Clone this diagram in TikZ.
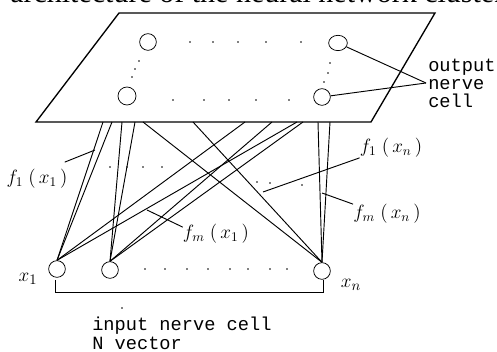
\documentclass[tikz,border=0pt]{standalone}
\usepackage{fontspec}
\setmainfont{Liberation Serif}
\setmonofont{Liberation Mono}
\usetikzlibrary{shapes.geometric}
\begin{document}
\begin{tikzpicture}[x=0.75pt,y=-0.75pt,
  cell/.style={circle,draw,line width=0.55pt,minimum size=12.5pt,inner sep=0pt},
  link/.style={line width=0.7pt},
  mlbl/.style={font=\fontsize{14}{16}\selectfont,inner sep=0pt},
  ttlbl/.style={font=\fontsize{14}{16}\ttfamily\selectfont,inner sep=0pt,anchor=base west},
  spot/.style={fill,radius=0.8}]
  \useasboundingbox (0,0) rectangle (497,352);
  % title, cut off at the top
  \node[anchor=base west,inner sep=0pt,font=\fontsize{22.5}{25}\selectfont] (title) at (10,3) {architecture of the neural network clustering};
  % output plane
  \draw[line width=1pt] (119,13) -- (435,13) -- (371,122) -- (36,122) -- cycle;
  \node[cell] (o11) at (148,42) {};
  \node[draw,ellipse,line width=0.55pt,inner sep=0pt,minimum width=14pt,minimum height=11.5pt] (o1n) at (338,43) {};
  \node[cell,minimum size=13.5pt] (om1) at (127,96) {};
  \node[cell] (omn) at (322,97) {};
  \foreach \x in {190,213,238,266,301} \fill[spot] (\x,42) circle;
  \foreach \x in {173,204,229,256,289} \fill[spot] (\x,100) circle;
  \foreach \x/\y in {139/61,135/69,132/77,330/63,328/73,324/82} \fill[spot] (\x,\y) circle;
  % output label
  \node[ttlbl] (out1) at (428,72) {output};
  \node[ttlbl] (out2) at (428,90) {nerve};
  \node[ttlbl] (out3) at (428,108) {cell};
  \coordinate (optr) at (426,83);
  \draw[link] (o1n) -- (optr);
  \draw[link] (omn) -- (optr);
  % input layer
  \node[cell] (x1) at (57,269) {};
  \node[cell] (x2) at (110,270) {};
  \node[cell] (xn) at (322,271) {};
  \foreach \x in {145,165,187,208,230,248,270,287} \fill[spot] (\x,269) circle;
  \node[font=\fontsize{15}{17}\selectfont,inner sep=0pt] (lx1) at (28,279) {$x_1$};
  \node[font=\fontsize{15}{17}\selectfont,inner sep=0pt] (lxn) at (351,285) {$x_n$};
  \draw[line width=0.7pt] (55,280) -- (55,292) -- (323,292) -- (323,280);
  \fill[spot] (122,308) circle;
  \node[ttlbl] (in1) at (92,331) {input nerve cell};
  \node[ttlbl] (in2) at (92,350) {N vector};
  % end points on the plane
  \foreach \n/\x in {a/103,b/112,c/122,d/135,e/143,f/193,g/245,h/272,i/297,j/303,k/318,l/330}
    \coordinate (\n) at (\x,122);
  % links
  \draw[link] (x1.north) -- (a);
  \draw[link] (x1.north) -- (b);
  \draw[link] (x1.north) -- (g);
  \draw[link] (x1.north) -- (i);
  \draw[link] (x2.north) -- (c);
  \draw[link] (x2.north) -- (d);
  \draw[link] (x2.north) -- (h);
  \draw[link] (x2.north) -- (j);
  \draw[link] (xn.north) -- (e);
  \draw[link] (xn.north) -- (f);
  \draw[link] (xn.north) -- (k);
  \draw[link] (xn.north) -- (l);
  \foreach \x/\y in {110/167,127/167,143/167,162/167,257/182,270/183,302/185} \fill[spot] (\x,\y) circle;
  % weight labels
  \node[mlbl] (f11) at (37,179) {$f_1\;(\,x_1\,)$};
  \node[mlbl] (fm1) at (216,234) {$f_m\;(\,x_1\,)$};
  \node[mlbl] (f1n) at (391,148) {$f_1\;(\,x_n\,)$};
  \node[mlbl] (fmn) at (387,214) {$f_m\;(\,x_n\,)$};
  \coordinate (p11) at (95,150);
  \coordinate (pm1) at (147,210);
  \coordinate (p1n) at (263,192);
  \coordinate (pmn) at (322,193);
  \draw[link] ([shift={(-3,-7)}]f11.north east) -- (p11);
  \draw[link] ([shift={(0,3)}]fm1.north west) -- (pm1);
  \draw[link] (f1n.south west) -- (p1n);
  \draw[link] (fmn.north west) -- (pmn);
\end{tikzpicture}
\end{document}
